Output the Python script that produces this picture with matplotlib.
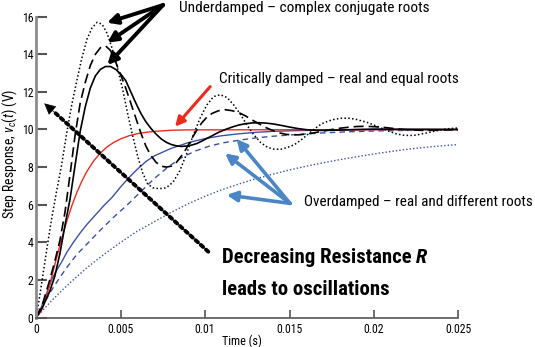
import matplotlib
matplotlib.use("Agg")
import matplotlib.pyplot as plt
from matplotlib import font_manager

# the reference uses a condensed sans; take the narrowest one that is installed
installed = {f.name for f in font_manager.fontManager.ttflist}
font = "Liberation Sans"
for name in ["Liberation Sans Narrow", "Roboto Condensed", "Open Sans Condensed",
             "Noto Sans Condensed", "DejaVu Sans Condensed", "Noto Sans SemiCondensed"]:
    if name in installed:
        font = name
        break

plt.rcParams["font.family"] = [font, "DejaVu Sans"]
plt.rcParams["mathtext.fontset"] = "custom"
plt.rcParams["mathtext.rm"] = font
plt.rcParams["mathtext.it"] = font + ":italic"

# %% data (time in s, voltage in V)
t_ud1 = [0, 0.0003, 0.0006, 0.0009, 0.0012, 0.0015, 0.0018, 0.0021, 0.0024, 0.0027,
         0.0030, 0.0033, 0.0036, 0.0039, 0.0042, 0.0045, 0.0048, 0.0051, 0.0054, 0.0057,
         0.0060, 0.0063, 0.0066, 0.0069, 0.0073, 0.0077, 0.0081, 0.0085, 0.0089, 0.0093,
         0.0097, 0.0101, 0.0105, 0.0109, 0.0113, 0.0117, 0.0121, 0.0125, 0.0129, 0.0133,
         0.0137, 0.0141, 0.0145, 0.0149, 0.0153, 0.0157, 0.0161, 0.0165, 0.0169, 0.0173,
         0.0177, 0.0181, 0.0185, 0.0189, 0.0193, 0.0197, 0.0201, 0.0205, 0.0209, 0.0213,
         0.0217, 0.0221, 0.0225, 0.0229, 0.0233, 0.0237, 0.0241, 0.0245, 0.0250]
v_ud1 = [0, 1.7, 3.5, 5.2, 6.7, 8.1, 9.8, 11.3, 12.6, 13.8,
         14.8, 15.4, 15.7, 15.6, 15.1, 14.3, 13.3, 12.2, 10.9, 9.7,
         8.6, 7.7, 7.1, 6.9, 6.85, 6.9, 7.2, 7.8, 8.7, 9.7,
         10.6, 11.3, 11.75, 11.85, 11.7, 11.3, 10.8, 10.2, 9.7, 9.3,
         9.05, 8.95, 8.95, 9.05, 9.2, 9.45, 9.75, 10.05, 10.3, 10.45,
         10.55, 10.6, 10.6, 10.55, 10.45, 10.35, 10.2, 10.05, 9.9, 9.78,
         9.7, 9.68, 9.7, 9.78, 9.85, 9.93, 10.0, 10.05, 10.08]

t_ud2 = [0, 0.0004, 0.0008, 0.0011, 0.0014, 0.0017, 0.0020, 0.0023, 0.0026, 0.0029,
         0.0032, 0.0035, 0.0038, 0.0041, 0.0044, 0.0047, 0.0050, 0.0053, 0.0056, 0.0059,
         0.0062, 0.0065, 0.0068, 0.0071, 0.0074, 0.0077, 0.0080, 0.0083, 0.0086, 0.0089,
         0.0092, 0.0095, 0.0098, 0.0101, 0.0104, 0.0108, 0.0112, 0.0116, 0.0120, 0.0124,
         0.0128, 0.0132, 0.0136, 0.0140, 0.0144, 0.0148, 0.0152, 0.0156, 0.0160, 0.0165,
         0.0170, 0.0175, 0.0180, 0.0185, 0.0190, 0.0195, 0.0200, 0.0205, 0.0210, 0.0215,
         0.0220, 0.0230, 0.0240, 0.0250]
v_ud2 = [0, 0.8, 2.0, 3.0, 4.1, 5.6, 7.6, 9.7, 11.4, 12.5,
         13.4, 14.0, 14.35, 14.45, 14.2, 13.6, 12.9, 12.2, 11.4, 10.6,
         9.8, 9.1, 8.6, 8.25, 8.05, 8.0, 8.05, 8.25, 8.6, 9.0,
         9.5, 9.95, 10.35, 10.65, 10.85, 11.0, 11.05, 11.0, 10.9, 10.72,
         10.5, 10.3, 10.1, 9.95, 9.82, 9.74, 9.71, 9.72, 9.76, 9.83,
         9.92, 10.0, 10.07, 10.12, 10.16, 10.17, 10.15, 10.12, 10.07, 10.02,
         9.98, 9.95, 9.97, 10.0]

t_ud3 = [0, 0.0004, 0.0008, 0.0011, 0.0014, 0.0017, 0.0020, 0.0023, 0.0026, 0.0029,
         0.0032, 0.0035, 0.0038, 0.0041, 0.0044, 0.0047, 0.0050, 0.0053, 0.0056, 0.0059,
         0.0062, 0.0065, 0.0068, 0.0071, 0.0074, 0.0077, 0.0080, 0.0083, 0.0086, 0.0089,
         0.0092, 0.0095, 0.0098, 0.0101, 0.0104, 0.0108, 0.0112, 0.0116, 0.0120, 0.0124,
         0.0128, 0.0132, 0.0136, 0.0140, 0.0145, 0.0150, 0.0155, 0.0160, 0.0165, 0.0170,
         0.0180, 0.0190, 0.0200, 0.0225, 0.0250]
v_ud3 = [0, 0.6, 1.4, 2.2, 3.4, 4.9, 6.3, 8.1, 9.9, 11.2,
         12.2, 12.85, 13.2, 13.35, 13.35, 13.2, 12.95, 12.6, 12.0, 11.4,
         10.85, 10.4, 10.05, 9.75, 9.5, 9.32, 9.2, 9.13, 9.1, 9.12,
         9.17, 9.25, 9.38, 9.52, 9.66, 9.85, 10.0, 10.13, 10.24, 10.31,
         10.35, 10.36, 10.34, 10.3, 10.22, 10.13, 10.05, 9.99, 9.96, 9.95,
         9.97, 10.0, 10.02, 10.01, 10.0]

t_cd = [0, 0.0003, 0.0006, 0.0009, 0.0012, 0.0015, 0.0018, 0.0021, 0.0024, 0.0027,
        0.0030, 0.0034, 0.0038, 0.0042, 0.0046, 0.0050, 0.0055, 0.0060, 0.0065, 0.0070,
        0.0075, 0.0080, 0.0090, 0.0250]
v_cd = [0, 0.34, 1.12, 2.11, 3.16, 4.17, 5.10, 5.93, 6.64, 7.26,
        7.77, 8.33, 8.75, 9.08, 9.32, 9.50, 9.67, 9.78, 9.85, 9.90,
        9.93, 9.96, 9.98, 10.0]

t_od1 = [0, 0.0003, 0.0006, 0.0009, 0.0012, 0.0015, 0.0018, 0.0022, 0.0026, 0.0030,
         0.0035, 0.0040, 0.0045, 0.0050, 0.0055, 0.0060, 0.0065, 0.0070, 0.0080, 0.0090,
         0.0100, 0.0110, 0.0120, 0.0130, 0.0140, 0.0150, 0.0170, 0.0200, 0.0250]
v_od1 = [0, 0.55, 1.25, 2.0, 2.5, 2.95, 3.45, 4.0, 4.5, 4.95,
         5.45, 5.95, 6.4, 6.95, 7.45, 7.9, 8.3, 8.6, 9.0, 9.3,
         9.52, 9.67, 9.77, 9.85, 9.9, 9.93, 9.97, 9.99, 10.0]

t_od2 = [0, 0.0004, 0.0008, 0.0013, 0.0018, 0.0024, 0.0031, 0.0038, 0.0046, 0.0054,
         0.0062, 0.0070, 0.0078, 0.0086, 0.0094, 0.0102, 0.0110, 0.0120, 0.0130, 0.0140,
         0.0155, 0.0170, 0.0185, 0.0200, 0.0225, 0.0250]
v_od2 = [0, 0.65, 1.3, 2.0, 2.65, 3.35, 4.0, 4.65, 5.35, 6.0,
         6.7, 7.4, 8.0, 8.5, 8.85, 9.1, 9.28, 9.43, 9.55, 9.64,
         9.74, 9.82, 9.88, 9.92, 9.96, 9.98]

t_od3 = [0, 0.0005, 0.001, 0.0015, 0.002, 0.0025, 0.003, 0.0035, 0.004, 0.005,
         0.006, 0.007, 0.008, 0.009, 0.010, 0.011, 0.012, 0.013, 0.014, 0.015,
         0.016, 0.017, 0.018, 0.019, 0.020, 0.021, 0.022, 0.023, 0.024, 0.025]
v_od3 = [0, 0.5, 0.98, 1.42, 1.85, 2.25, 2.65, 3.0, 3.35, 4.0,
         4.6, 5.1, 5.6, 6.05, 6.45, 6.8, 7.1, 7.38, 7.62, 7.85,
         8.05, 8.23, 8.4, 8.55, 8.7, 8.83, 8.95, 9.05, 9.13, 9.2]

x_ticks = [0, 0.005, 0.01, 0.015, 0.02, 0.025]
x_ticklabels = ["0", "0.005", "0.01", "0.015", "0.02", "0.025"]
y_ticks = [0, 2, 4, 6, 8, 10, 12, 14, 16]

# %%
fig = plt.figure(figsize=(5.35, 3.47), dpi=100)
ax = fig.add_axes([0.0678, 0.085, 0.7889, 0.8669])
renderer = fig.canvas.get_renderer()


def fit_size(txt, px, along="width"):
    # scale a text so its extent matches the one measured on the reference
    bb = txt.get_window_extent(renderer)
    size = bb.width if along == "width" else bb.height
    txt.set_fontsize(txt.get_fontsize() * px / size)


blue = "#3c50a8"
arrow_blue = "#4a86c6"
red = "#ee2a1e"

ax.plot(t_od3, v_od3, color=blue, lw=1.0, linestyle=(0, (1, 1.5)))
ax.plot(t_od2, v_od2, color=blue, lw=1.0, linestyle=(0, (4, 3)))
ax.plot(t_od1, v_od1, color=blue, lw=1.0)
ax.plot(t_cd, v_cd, color=red, lw=1.0)
ax.plot(t_ud1, v_ud1, color="black", lw=1.1, linestyle=(0, (1, 1.5)))
ax.plot(t_ud2, v_ud2, color="black", lw=1.2, linestyle=(0, (6, 3)))
ax.plot(t_ud3, v_ud3, color="black", lw=1.2)

ax.set_xlim(0, 0.025)
ax.set_ylim(0, 16)
ax.set_xticks(x_ticks)
ax.set_xticklabels(x_ticklabels)
ax.set_yticks(y_ticks)
ax.spines["top"].set_visible(False)
ax.spines["right"].set_visible(False)
ax.spines["left"].set_color("#8c8c8c")
ax.spines["left"].set_linewidth(2.0)
ax.spines["bottom"].set_color("#555555")
ax.spines["bottom"].set_linewidth(1.2)
ax.tick_params(axis="y", direction="in", length=8, width=1.5, color="#555555", pad=2)
ax.tick_params(axis="x", direction="in", length=6, width=1.2, color="#555555", pad=4)

# tick labels: "0.005" is about 26 px wide on the reference
probe = fig.text(0, 0, "0.005", fontsize=10)
fit_size(probe, 26)
tick_size = probe.get_fontsize()
probe.remove()
ax.tick_params(labelsize=tick_size)

xl = ax.set_xlabel("Time (s)", fontsize=9, va="center")
fit_size(xl, 40)
ax.xaxis.set_label_coords(0.487, -0.08)
yl = ax.set_ylabel(r"Step Response, $v_c(t)$ (V)", fontsize=9, va="center")
fit_size(yl, 130, along="height")
ax.yaxis.set_label_coords(-0.063, 0.545)

# annotations
t1 = ax.text(0.00847, 16.46, "Underdamped \u2013 complex conjugate roots", fontsize=9.5,
             va="center", ha="left")
fit_size(t1, 250)
for tip in [(0.00419, 15.68), (0.00421, 14.62), (0.00421, 13.43)]:
    ax.annotate("", xy=tip, xytext=(0.00751, 16.62), annotation_clip=False,
                arrowprops=dict(arrowstyle="-|>", color="black", lw=2.8,
                                mutation_scale=15, shrinkA=0, shrinkB=0))

t2 = ax.text(0.01084, 12.69, "Critically damped \u2013 real and equal roots", fontsize=9.5,
             va="center", ha="left")
fit_size(t2, 241)
ax.annotate("", xy=(0.00822, 10.15), xytext=(0.0103, 12.28),
            arrowprops=dict(arrowstyle="-|>", color=red, lw=2.2,
                            mutation_scale=14, shrinkA=0, shrinkB=0))

t3 = ax.text(0.01586, 6.16, "Overdamped \u2013 real and different roots", fontsize=9.5,
             va="center", ha="left")
fit_size(t3, 228)
for tip in [(0.01187, 9.49), (0.01118, 8.73), (0.01128, 6.52)]:
    ax.annotate("", xy=tip, xytext=(0.01503, 6.07),
                arrowprops=dict(arrowstyle="-|>", color=arrow_blue, lw=2.6,
                                mutation_scale=15, shrinkA=0, shrinkB=0))

# decreasing resistance arrow (dotted shaft + solid head)
ax.plot([0.01019, 0.0011], [3.5, 10.9], color="black", lw=2.8,
        linestyle=(0, (0.8, 1.0)), dash_capstyle="round")
ax.annotate("", xy=(0.00047, 11.39), xytext=(0.0012, 10.82),
            arrowprops=dict(arrowstyle="-|>", color="black", lw=0.5,
                            mutation_scale=18, shrinkA=0, shrinkB=0))

# "leads to oscillations" spans about 167 px on the reference
b2 = ax.text(0.01098, 1.2, "leads to oscillations", fontsize=15, fontweight="bold",
             va="baseline", ha="left")
fit_size(b2, 167)
big = b2.get_fontsize()
b1 = ax.text(0.01098, 2.88, "Decreasing Resistance ", fontsize=big,
             fontweight="bold", va="baseline", ha="left")
bb = b1.get_window_extent(renderer)
x_r = ax.transData.inverted().transform((bb.x1, bb.y0))[0]
ax.text(x_r, 2.88, "R", fontsize=big, fontweight="bold", style="italic",
        va="baseline", ha="left")

fig.savefig("out.png", dpi=100)
